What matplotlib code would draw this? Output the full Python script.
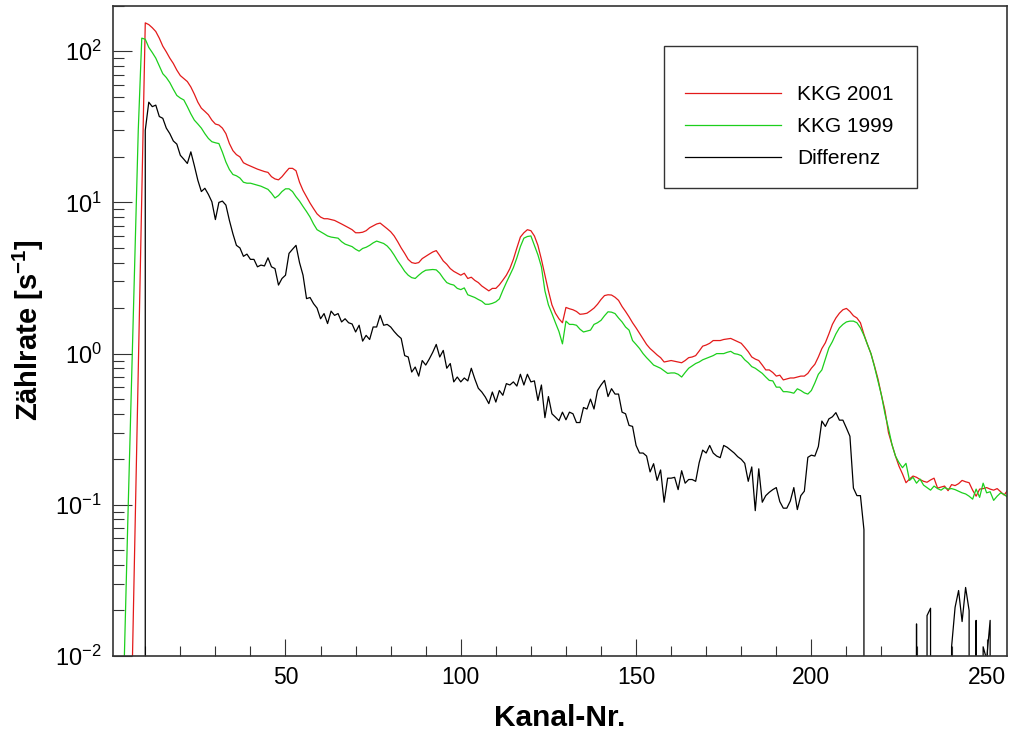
import matplotlib
matplotlib.use("Agg")
import matplotlib.pyplot as plt
import numpy as np
from matplotlib.patches import Rectangle
from matplotlib.ticker import MultipleLocator, LogLocator, NullFormatter

# Zählrate je Kanal (Kanal-Nr. beginnt bei *_start)
kkg2001_start = 6
kkg2001 = [
    0.0039, 0.055, 0.78, 11, 154, 150, 143, 135, 122, 108,          # 6
    99, 90, 83, 75, 69, 66, 63, 58, 52, 46,                         # 16
    42, 40, 38, 35, 33, 32.5, 31, 28.5, 24.5, 22,                   # 26
    20.7, 20, 18.3, 17.8, 17.4, 17, 16.6, 16.3, 16, 15.8,           # 36
    14.8, 14.3, 14.1, 14.8, 15.8, 16.8, 16.8, 16.2, 13.6, 12,       # 46
    10.9, 9.9, 9.1, 8.4, 8.0, 7.8, 7.8, 7.7, 7.6, 7.4,              # 56
    7.2, 7.0, 6.8, 6.6, 6.3, 6.3, 6.35, 6.5, 6.8, 7.0,              # 66
    7.2, 7.3, 7.0, 6.7, 6.4, 6.0, 5.5, 5.0, 4.6, 4.2,               # 76
    4.0, 3.95, 4.0, 4.25, 4.4, 4.55, 4.7, 4.8, 4.45, 4.1,           # 86
    3.9, 3.65, 3.5, 3.4, 3.3, 3.4, 3.14, 3.2, 3.05, 2.95,           # 96
    2.8, 2.7, 2.6, 2.7, 2.7, 2.85, 3.06, 3.3, 3.65, 4.2,            # 106
    5.0, 5.9, 6.3, 6.6, 6.5, 6.0, 5.2, 4.2, 3.3, 2.6,               # 116
    2.1, 1.85, 1.7, 1.6, 2.02, 1.98, 1.95, 1.9, 1.82, 1.83,         # 126
    1.85, 1.92, 2.0, 2.12, 2.28, 2.42, 2.45, 2.44, 2.36, 2.25,      # 136
    2.05, 1.9, 1.75, 1.6, 1.48, 1.36, 1.25, 1.15, 1.08, 1.03,       # 146
    0.98, 0.94, 0.88, 0.89, 0.9, 0.89, 0.88, 0.87, 0.9, 0.94,       # 156
    0.95, 0.97, 1.04, 1.12, 1.14, 1.17, 1.22, 1.22, 1.22, 1.24,     # 166
    1.25, 1.26, 1.23, 1.2, 1.17, 1.1, 1.03, 0.95, 0.92, 0.9,        # 176
    0.84, 0.78, 0.78, 0.75, 0.71, 0.72, 0.67, 0.68, 0.69, 0.69,     # 186
    0.7, 0.71, 0.71, 0.74, 0.8, 0.85, 0.95, 1.08, 1.18, 1.35,       # 196
    1.56, 1.72, 1.85, 1.95, 1.99, 1.9, 1.78, 1.72, 1.6, 1.34,       # 206
    1.15, 1.0, 0.83, 0.68, 0.53, 0.42, 0.3, 0.25, 0.21, 0.18,       # 216
    0.16, 0.14, 0.148, 0.155, 0.152, 0.147, 0.143, 0.141, 0.146, 0.15,   # 226
    0.129, 0.131, 0.133, 0.124, 0.136, 0.134, 0.138, 0.145, 0.142, 0.14,  # 236
    0.125, 0.114, 0.127, 0.128, 0.13, 0.127, 0.125, 0.128, 0.122, 0.116,  # 246
    0.125,                                                          # 256
]

kkg1999_start = 4
kkg1999 = [
    0.0092, 0.075, 0.55, 4.0, 30, 122, 120, 106, 98, 90,           # 4
    80, 71, 67, 62, 56, 51, 49, 47.6, 43, 38.5,                     # 14
    35, 33, 31, 28.5, 26.5, 25.2, 24.8, 24.5, 21.5, 18.5,           # 24
    16.5, 15.3, 15.0, 14.5, 13.6, 13.4, 13.4, 13.2, 13.0, 12.8,     # 34
    12.5, 12.2, 11.5, 10.7, 11.1, 11.8, 12.3, 12.3, 11.8, 10.9,     # 44
    10.2, 9.4, 8.7, 8.0, 7.2, 6.6, 6.4, 6.2, 6.0, 5.9,              # 54
    5.85, 5.8, 5.5, 5.3, 5.2, 5.1, 4.9, 4.76, 4.96, 5.05,           # 64
    5.2, 5.4, 5.55, 5.45, 5.35, 5.15, 4.85, 4.48, 4.1, 3.8,         # 74
    3.5, 3.3, 3.18, 3.14, 3.3, 3.45, 3.56, 3.58, 3.6, 3.58,         # 84
    3.4, 3.15, 2.95, 2.88, 2.84, 2.7, 2.65, 2.72, 2.45, 2.4,        # 94
    2.35, 2.28, 2.22, 2.12, 2.12, 2.15, 2.2, 2.3, 2.62, 2.95,       # 104
    3.3, 3.7, 4.3, 5.1, 5.8, 5.95, 6.0, 5.2, 4.5, 3.75,             # 114
    2.6, 2.1, 1.84, 1.6, 1.4, 1.16, 1.64, 1.56, 1.56, 1.54,         # 124
    1.45, 1.39, 1.41, 1.43, 1.56, 1.6, 1.66, 1.78, 1.89, 1.88,      # 134
    1.84, 1.72, 1.62, 1.5, 1.43, 1.22, 1.15, 1.08, 1.0, 0.94,       # 144
    0.89, 0.84, 0.82, 0.8, 0.77, 0.74, 0.745, 0.745, 0.73, 0.7,     # 154
    0.75, 0.8, 0.83, 0.86, 0.88, 0.91, 0.93, 0.95, 0.97, 1.0,       # 164
    1.0, 1.0, 1.02, 1.035, 1.0, 0.99, 0.97, 0.91, 0.87, 0.82,       # 174
    0.8, 0.77, 0.74, 0.7, 0.665, 0.66, 0.6, 0.6, 0.56, 0.56,        # 184
    0.555, 0.547, 0.585, 0.57, 0.55, 0.54, 0.57, 0.64, 0.73, 0.78,  # 194
    0.92, 1.09, 1.2, 1.35, 1.48, 1.56, 1.62, 1.64, 1.64, 1.6,       # 204
    1.48, 1.32, 1.15, 1.0, 0.82, 0.66, 0.53, 0.4, 0.32, 0.25,       # 214
    0.21, 0.19, 0.176, 0.188, 0.145, 0.152, 0.139, 0.148, 0.135, 0.13,    # 224
    0.125, 0.133, 0.128, 0.125, 0.13, 0.127, 0.128, 0.126, 0.123, 0.12,   # 234
    0.118, 0.114, 0.109, 0.127, 0.112, 0.139, 0.12, 0.122, 0.107, 0.114,  # 244
    0.12, 0.117, 0.112,                                             # 254
]

# Differenz 2001 - 1999 (Werte <= 0 fallen auf der log-Achse nach unten weg)
differenz_start = 9
differenz = [
    0, 30, 46, 43, 44, 37, 36, 31, 28.5, 25.5,                      # 9
    24.3, 20.5, 19.3, 18.1, 21.6, 17.5, 14, 11.8, 12.4, 11.3,       # 19
    10.1, 7.7, 10.0, 10.2, 9.6, 7.6, 6.2, 5.2, 5.0, 4.4,            # 29
    4.55, 4.2, 4.2, 3.75, 3.85, 3.8, 4.3, 3.75, 3.65, 2.84,         # 39
    3.14, 3.3, 4.6, 4.9, 5.2, 4.0, 3.3, 2.31, 2.35, 2.14,           # 49
    2.0, 1.7, 1.84, 1.58, 1.91, 1.79, 1.84, 1.62, 1.7, 1.6,         # 59
    1.57, 1.39, 1.54, 1.21, 1.32, 1.24, 1.5, 1.5, 1.79, 1.54,       # 69
    1.56, 1.5, 1.4, 1.32, 1.26, 0.97, 0.95, 0.755, 0.815, 0.71,     # 79
    0.9, 0.84, 0.92, 1.02, 1.15, 0.95, 1.05, 0.8, 0.86, 0.65,       # 89
    0.7, 0.65, 0.69, 0.66, 0.8, 0.68, 0.59, 0.557, 0.516, 0.467,    # 99
    0.557, 0.478, 0.57, 0.53, 0.633, 0.62, 0.65, 0.61, 0.73, 0.62,  # 109
    0.73, 0.65, 0.66, 0.49, 0.62, 0.377, 0.52, 0.4, 0.38, 0.36,     # 119
    0.41, 0.365, 0.41, 0.4, 0.35, 0.35, 0.44, 0.43, 0.5, 0.43,      # 129
    0.57, 0.62, 0.665, 0.52, 0.586, 0.54, 0.54, 0.41, 0.4, 0.335,   # 139
    0.33, 0.247, 0.22, 0.22, 0.21, 0.165, 0.187, 0.145, 0.17, 0.104,      # 149
    0.15, 0.15, 0.152, 0.126, 0.168, 0.139, 0.147, 0.147, 0.143, 0.19,    # 159
    0.23, 0.22, 0.247, 0.22, 0.21, 0.205, 0.247, 0.24, 0.23, 0.22,        # 169
    0.208, 0.2, 0.188, 0.143, 0.178, 0.0915, 0.173, 0.104, 0.115, 0.121,  # 179
    0.126, 0.13, 0.105, 0.095, 0.095, 0.106, 0.13, 0.093, 0.115, 0.123,   # 189
    0.206, 0.213, 0.21, 0.243, 0.358, 0.33, 0.37, 0.382, 0.407, 0.363,    # 199
    0.363, 0.322, 0.284, 0.129, 0.115, 0.115, 0.0685, 0, 0, 0,      # 209
    0, 0, 0, 0, 0, 0, 0, 0, 0, 0,                                   # 219
    0, 0.0163, 0, 0, 0.0185, 0.0207, 0, 0, 0, 0,                    # 229
    0, 0.0115, 0.021, 0.0271, 0.0169, 0.0284, 0.02, 0, 0.0172, 0,   # 239
    0.0115, 0.0095, 0.0172, 0, 0, 0, 0, 0,                          # 249
]

labels = ["KKG 2001", "KKG 1999", "Differenz"]
colors = ["#e31a1a", "#1ccf1c", "#000000"]

plt.rcParams['font.family'] = ['Liberation Sans', 'DejaVu Sans']
plt.rcParams['mathtext.fontset'] = 'custom'
plt.rcParams['mathtext.rm'] = 'Liberation Sans'
plt.rcParams['mathtext.bf'] = 'Liberation Sans:bold'

fig = plt.figure(figsize=(10.10, 7.31), dpi=100)
ax = fig.add_axes([0.1119, 0.1026, 0.8851, 0.8896])

series = [(kkg2001_start, kkg2001), (kkg1999_start, kkg1999), (differenz_start, differenz)]
handles = []
for (start, vals), lab, col in zip(series, labels, colors):
    kanal = np.arange(start, start + len(vals))
    h, = ax.plot(kanal, vals, color=col, lw=0.9, label=lab)
    handles.append(h)

ax.set_yscale('log')
ax.set_ylim(0.01, 200)
ax.set_xlim(0.8, 255.8)

ax.xaxis.set_major_locator(MultipleLocator(50))
ax.xaxis.set_minor_locator(MultipleLocator(10))
ax.yaxis.set_major_locator(LogLocator(base=10, numticks=10))
ax.yaxis.set_minor_locator(LogLocator(base=10, subs=np.arange(2, 10), numticks=10))
ax.yaxis.set_minor_formatter(NullFormatter())

ax.tick_params(which='both', direction='in', top=False, right=False,
               color='#333333', width=0.8)
ax.tick_params(axis='x', which='major', length=12, labelsize=16.5, pad=7)
ax.tick_params(axis='x', which='minor', length=7)
ax.tick_params(axis='y', which='major', length=13.5, labelsize=17, pad=8)
ax.tick_params(axis='y', which='minor', length=8)

for sp in ax.spines.values():
    sp.set_color('#333333')
    sp.set_linewidth(1.2)

# Legendenrahmen
ax.add_patch(Rectangle((0.6169, 0.7197), 0.2824, 0.2184, transform=ax.transAxes,
                       fill=False, edgecolor='#333333', lw=1.0, zorder=5))
ax.legend(handles=handles, loc='upper left', bbox_to_anchor=(0.6782, 0.8832),
          bbox_transform=fig.transFigure, frameon=False, borderpad=0,
          borderaxespad=0, handlelength=4.6, handletextpad=0.8,
          labelspacing=0.61, fontsize=15)

fig.text(0.5545, 0.0075, 'Kanal-Nr.', fontsize=21.5, fontweight='bold',
         ha='center', va='baseline')
fig.text(0.028, 0.5486, 'Zählrate [$\\bf s^{-1}$]', fontsize=21, fontweight='bold',
         rotation=90, ha='center', va='center')

fig.savefig('out.png', dpi=100)
